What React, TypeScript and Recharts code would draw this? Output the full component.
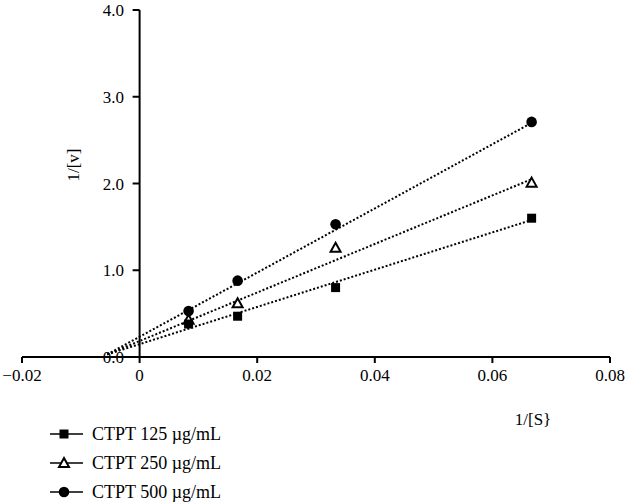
import { ScatterChart, Scatter, XAxis, YAxis, ReferenceLine, Legend } from 'recharts'

// 1/[S] values where points were measured
const substrate = [0.00833, 0.01667, 0.03333, 0.06667]
// 1/[v]
const ctpt125 = [0.38, 0.47, 0.8, 1.6]
const ctpt250 = [0.43, 0.62, 1.26, 2.01]
const ctpt500 = [0.53, 0.88, 1.53, 2.71]

// dotted trend lines, ends
const trendX = [-0.0055, 0.0667]
const trend125 = [0.03, 1.58]
const trend250 = [0.03, 2.05]
const trend500 = [0.03, 2.7]

const xTicks = [-0.02, 0, 0.02, 0.04, 0.06, 0.08]
const yTicks = [0, 1, 2, 3, 4]
const seriesNames = ['CTPT 125 µg/mL', 'CTPT 250 µg/mL', 'CTPT 500 µg/mL']
const xLabel = '1/[S}'
const yLabel = '1/[v]'

const FONT = 'Liberation Serif'
const txt = { fontFamily: FONT, fontSize: 17, fill: '#000' }
const AXIS_Y = 357
const Y_AXIS_X = 22 + 0.2 * 588

const toPoints = (xs: number[], ys: number[]) => xs.map((x, i) => ({ x, y: ys[i] }))

const Marker = ({ kind, cx, cy }: { kind: string; cx: number; cy: number }) => {
    if (kind === 'square') {
        return <rect x={cx - 4.5} y={cy - 4.5} width={9} height={9} fill="#000" />
    }
    if (kind === 'triangle') {
        return (
            <polygon
                points={`${cx},${cy - 5} ${cx + 5},${cy + 4} ${cx - 5},${cy + 4}`}
                fill="#fff"
                stroke="#000"
                strokeWidth={2}
            />
        )
    }
    return <circle cx={cx} cy={cy} r={5.3} fill="#000" />
}

const markerKinds = ['square', 'triangle', 'circle']

const XTick = (props: any) => {
    const v = props.payload.value
    const label = v === 0 ? '0' : v < 0 ? '\u2212' + Math.abs(v).toFixed(2) : v.toFixed(2)
    return (
        <text x={props.x} y={AXIS_Y + 24} textAnchor="middle" style={txt}>
            {label}
        </text>
    )
}

const YTick = (props: any) => {
    const v = props.payload.value
    return (
        <g>
            <line x1={Y_AXIS_X - 7} x2={Y_AXIS_X} y1={props.y} y2={props.y} stroke="#000" strokeWidth={2} />
            <text x={124} y={props.y + 6} textAnchor="end" style={txt}>
                {v.toFixed(1)}
            </text>
        </g>
    )
}

const LegendBox = () => (
    <svg width={230} height={90}>
        {seriesNames.map((name, i) => {
            const cy = 14 + i * 29
            return (
                <g key={name}>
                    <line x1={10} x2={43} y1={cy} y2={cy} stroke="#000" strokeWidth={1.5} />
                    <Marker kind={markerKinds[i]} cx={24} cy={cy} />
                    <text x={52} y={cy + 6} style={{ ...txt, fontSize: 18 }}>
                        {name}
                    </text>
                </g>
            )
        })}
    </svg>
)

const dotted = { stroke: '#000', strokeWidth: 2, strokeDasharray: '2 2' }

export default function App() {
    const measured = [ctpt125, ctpt250, ctpt500]
    const trends = [trend125, trend250, trend500]
    // open triangles sit underneath the filled markers
    const drawOrder = [1, 0, 2]
    return (
        <div style={{ position: 'absolute', left: 0, top: 0, background: '#fff' }}>
            <ScatterChart width={628} height={504} margin={{ top: 10, right: 18, left: 0, bottom: 117 }}>
                <XAxis
                    type="number"
                    dataKey="x"
                    domain={[-0.02, 0.08]}
                    ticks={xTicks}
                    interval={0}
                    height={30}
                    axisLine={{ stroke: '#000', strokeWidth: 2 }}
                    tickLine={{ stroke: '#000', strokeWidth: 2 }}
                    tickSize={6}
                    tick={<XTick />}
                />
                <YAxis
                    type="number"
                    dataKey="y"
                    domain={[0, 4]}
                    ticks={yTicks}
                    interval={0}
                    width={22}
                    axisLine={false}
                    tickLine={false}
                    tick={<YTick />}
                />
                <ReferenceLine x={0} stroke="#000" strokeWidth={2} />
                {trends.map((t, i) => (
                    <Scatter
                        key={'t' + i}
                        data={toPoints(trendX, t)}
                        line={dotted}
                        shape={() => <g />}
                        legendType="none"
                        isAnimationActive={false}
                    />
                ))}
                {drawOrder.map((i) => (
                    <Scatter
                        key={'m' + i}
                        name={seriesNames[i]}
                        data={toPoints(substrate, measured[i])}
                        shape={(p: any) => <Marker kind={markerKinds[i]} cx={p.cx} cy={p.cy} />}
                        isAnimationActive={false}
                    />
                ))}
                <Legend
                    layout="vertical"
                    verticalAlign="middle"
                    align="center"
                    content={<LegendBox />}
                    wrapperStyle={{ left: 40, top: 420, width: 230, height: 90 }}
                />
                <text
                    x={75}
                    y={165}
                    transform="rotate(-90 75 165)"
                    textAnchor="middle"
                    dominantBaseline="middle"
                    style={txt}
                >
                    {yLabel}
                </text>
                <text x={533} y={425} textAnchor="middle" style={txt}>
                    {xLabel}
                </text>
            </ScatterChart>
        </div>
    )
}
